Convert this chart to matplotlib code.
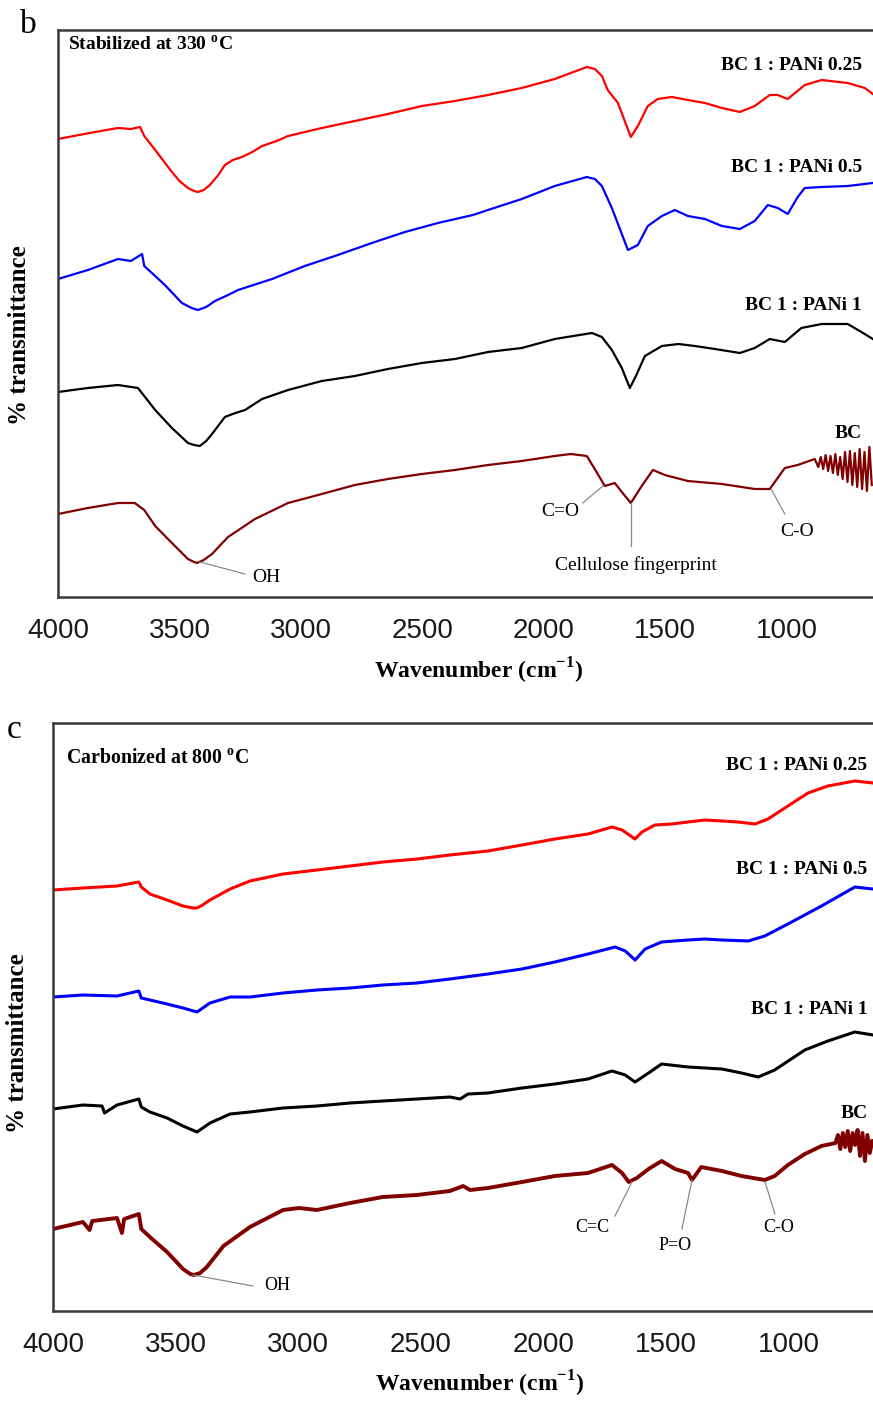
import matplotlib
matplotlib.use("Agg")
import matplotlib.pyplot as plt

# ---- panel b: stabilized at 330 C (arbitrary transmittance units) ----
B_PANI025_WN = [4000, 3870, 3753, 3700, 3662, 3645, 3600, 3531, 3500, 3465, 3440, 3424, 3400, 3375, 3340,
                3313, 3280, 3243, 3200, 3160, 3100, 3053, 2914, 2778, 2642, 2502, 2366, 2230, 2091, 1955,
                1823, 1790, 1761, 1737, 1695, 1667, 1642, 1613, 1572, 1531, 1473, 1407, 1337, 1267, 1193,
                1132, 1070, 1037, 996, 926, 856, 749, 679, 646]
B_PANI025_T = [458, 464, 469, 468, 470, 461, 447, 425, 416, 409, 406, 405, 407, 412, 422,
               432, 437, 440, 445, 451, 456, 461, 469, 476, 483, 491, 496, 502, 509, 518,
               530, 528, 521, 507, 494, 476, 460, 471, 491, 498, 500, 497, 494, 489, 485,
               491, 502, 502, 498, 512, 517, 514, 509, 503]

B_PANI05_WN = [4000, 3877, 3753, 3700, 3654, 3645, 3600, 3560, 3490, 3450, 3424, 3390, 3354, 3300, 3259,
               3119, 2984, 2848, 2708, 2572, 2436, 2292, 2230, 2091, 1955, 1823, 1790, 1761, 1720, 1679,
               1654, 1613, 1572, 1514, 1461, 1407, 1337, 1267, 1193, 1132, 1078, 1037, 996, 955, 926,
               856, 749, 646]
B_PANI05_T = [318, 327, 338, 336, 343, 331, 321, 312, 294, 289, 287, 290, 296, 302, 307,
              318, 331, 342, 354, 365, 374, 382, 387, 398, 411, 420, 418, 411, 389, 363,
              347, 352, 371, 381, 387, 381, 378, 371, 368, 376, 392, 389, 383, 400, 409,
              410, 411, 414]

B_PANI1_WN = [4000, 3877, 3753, 3671, 3645, 3600, 3531, 3465, 3440, 3416, 3390, 3366, 3313, 3270, 3230,
              3160, 3053, 2914, 2778, 2642, 2502, 2366, 2230, 2091, 1955, 1802, 1761, 1720, 1679, 1646,
              1621, 1584, 1514, 1446, 1378, 1296, 1193, 1132, 1070, 1008, 940, 856, 749, 679, 646]
B_PANI1_T = [205, 209, 212, 209, 201, 187, 169, 154, 152, 151, 156, 163, 180, 184, 187,
             198, 207, 216, 221, 228, 234, 238, 245, 249, 258, 264, 260, 247, 229, 209,
             221, 241, 251, 253, 251, 248, 244, 249, 258, 255, 269, 273, 273, 263, 258]

B_BC_WN = [4000, 3877, 3753, 3684, 3645, 3600, 3531, 3465, 3440, 3428, 3400, 3366, 3300, 3189, 3053,
           2914, 2778, 2642, 2502, 2366, 2230, 2091, 1955, 1889, 1823, 1788, 1749, 1708, 1679, 1642,
           1597, 1551, 1502, 1407, 1267, 1132, 1070, 1008, 955, 885, 870, 860, 850, 840, 830,
           820, 810, 800, 790, 780, 770, 760, 750, 740, 730, 720, 710, 700, 690, 680,
           670, 660, 650]
B_BC_T = [83, 89, 94, 94, 87, 71, 54, 38, 35, 34, 37, 43, 60, 78, 94,
          103, 112, 118, 123, 127, 132, 136, 141, 143, 141, 127, 111, 114, 105, 94,
          111, 127, 122, 116, 113, 108, 108, 129, 132, 138, 130, 140, 128, 142, 126,
          141, 124, 143, 122, 140, 118, 145, 115, 146, 112, 144, 110, 148, 108, 145,
          106, 150, 112]

# ---- panel c: carbonized at 800 C ----
C_PANI025_WN = [4000, 3878, 3739, 3650, 3640, 3605, 3535, 3470, 3430, 3413, 3390, 3360, 3278, 3197, 3062,
                2924, 2789, 2655, 2516, 2382, 2227, 2088, 1954, 1819, 1721, 1680, 1627, 1599, 1546, 1477,
                1411, 1342, 1273, 1208, 1138, 1085, 1004, 922, 841, 731, 657]
C_PANI025_T = [421, 423, 425, 429, 424, 417, 411, 405, 403, 403, 406, 411, 422, 430, 437,
               441, 445, 449, 452, 456, 460, 466, 472, 477, 484, 481, 472, 479, 486, 487,
               489, 491, 490, 489, 487, 492, 505, 518, 525, 530, 528]

C_PANI05_WN = [4000, 3878, 3739, 3650, 3640, 3605, 3535, 3470, 3413, 3360, 3278, 3197, 3062, 2924, 2789,
               2655, 2516, 2382, 2227, 2088, 1954, 1819, 1708, 1667, 1627, 1586, 1519, 1411, 1342, 1273,
               1166, 1098, 1004, 867, 731, 657]
C_PANI05_T = [314, 316, 315, 320, 313, 311, 307, 303, 299, 308, 314, 314, 318, 321, 323,
              326, 328, 332, 337, 342, 349, 357, 364, 360, 351, 362, 369, 371, 372, 371,
              370, 375, 387, 405, 424, 422]

C_PANI1_WN = [4000, 3878, 3800, 3790, 3739, 3650, 3640, 3605, 3535, 3470, 3413, 3360, 3278, 3197, 3062,
              2924, 2789, 2655, 2516, 2382, 2340, 2308, 2227, 2088, 1954, 1819, 1721, 1667, 1627, 1572,
              1519, 1411, 1273, 1193, 1125, 1058, 935, 841, 731, 657]
C_PANI1_T = [202, 206, 205, 198, 206, 212, 204, 199, 193, 185, 179, 188, 197, 199, 203,
             205, 208, 210, 212, 214, 212, 217, 218, 223, 227, 232, 240, 236, 229, 238,
             247, 244, 242, 238, 234, 241, 261, 270, 279, 276]

C_BC_WN = [4000, 3878, 3851, 3840, 3739, 3719, 3710, 3650, 3640, 3605, 3535, 3470, 3440, 3426, 3400,
           3373, 3305, 3197, 3062, 2997, 2924, 2789, 2655, 2516, 2382, 2328, 2300, 2227, 2088, 1954,
           1819, 1721, 1680, 1653, 1620, 1572, 1519, 1464, 1411, 1395, 1357, 1273, 1193, 1098, 1058,
           1004, 935, 867, 810, 800, 790, 780, 770, 760, 750, 740, 730, 720, 710, 700,
           690, 680, 670, 660]
C_BC_T = [82, 89, 81, 90, 93, 78, 92, 97, 82, 74, 59, 42, 37, 36, 38,
          44, 65, 84, 101, 103, 101, 108, 114, 116, 120, 125, 121, 123, 129, 135,
          138, 146, 138, 129, 133, 142, 150, 142, 138, 131, 144, 140, 135, 131, 135,
          146, 157, 165, 168, 176, 162, 178, 164, 180, 160, 178, 166, 181, 155, 178,
          150, 176, 158, 170]

SERIES_NAMES = ["BC 1 : PANi 0.25", "BC 1 : PANi 0.5", "BC 1 : PANi 1", "BC"]
COLORS = ["#ff0000", "#0000ff", "#000000", "#800000"]
TICKS = [4000, 3500, 3000, 2500, 2000, 1500, 1000]

plt.rcParams["mathtext.fontset"] = "custom"
plt.rcParams["mathtext.rm"] = "Liberation Serif"
plt.rcParams["mathtext.bf"] = "Liberation Serif:bold"
SERIF = "Liberation Serif"


def setup_axes(ax, xmax_right, ytop):
    ax.set_xlim(4000, xmax_right)
    ax.set_ylim(0, ytop)
    ax.set_yticks([])
    ax.set_xticks(TICKS)
    ax.set_xticklabels([str(t) for t in TICKS], fontfamily="Liberation Sans", fontsize=20, color="#1a1a1a")
    ax.tick_params(axis="x", length=0, pad=15)
    for s in ["left", "top", "bottom"]:
        ax.spines[s].set_color("#3a3a3a")
        ax.spines[s].set_linewidth(1.8)
    ax.spines["right"].set_visible(False)


def leader(ax, p0, p1):
    ax.plot([p0[0], p1[0]], [p0[1], p1[1]], color="#8a8a8a", lw=0.9)


fig = plt.figure(figsize=(8.73, 14.01), dpi=100)

# panel b
axb = fig.add_axes([58 / 873, 1 - 597 / 1401, 815 / 873, 567 / 1401])
setup_axes(axb, 645, 567)
b_data = [(B_PANI025_WN, B_PANI025_T), (B_PANI05_WN, B_PANI05_T),
          (B_PANI1_WN, B_PANI1_T), (B_BC_WN, B_BC_T)]
for (wn, t), c in zip(b_data, COLORS):
    axb.plot(wn, t, color=c, lw=1.6)
for name, ty in zip(SERIES_NAMES, [532, 429, 291, 164]):
    axb.text(690, ty, name, ha="right", va="center", fontfamily=SERIF, fontweight="bold", fontsize=14)
axb.text(0.012, 0.974, r"Stabilized at 330 $^{\mathbf{o}}$C", transform=axb.transAxes,
         ha="left", va="center", fontfamily=SERIF, fontweight="bold", fontsize=14)

leader(axb, (3416, 35), (3230, 23))
axb.text(3144, 19, "OH", ha="center", va="center", fontfamily=SERIF, fontsize=14)
leader(axb, (1757, 111), (1840, 94))
axb.text(1934, 85, "C=O", ha="center", va="center", fontfamily=SERIF, fontsize=14)
leader(axb, (1642, 94), (1642, 51))
axb.text(1621, 32, "Cellulose fingerprint", ha="center", va="center", fontfamily=SERIF, fontsize=14)
leader(axb, (1062, 107), (1008, 83))
axb.text(959, 65, "C-O", ha="center", va="center", fontfamily=SERIF, fontsize=14)

# panel c
axc = fig.add_axes([53 / 873, 1 - 1311 / 1401, 820 / 873, 588 / 1401])
setup_axes(axc, 657, 588)
c_data = [(C_PANI025_WN, C_PANI025_T), (C_PANI05_WN, C_PANI05_T),
          (C_PANI1_WN, C_PANI1_T), (C_BC_WN, C_BC_T)]
for (wn, t), c, lw in zip(c_data, COLORS, [2.2, 2.2, 2.2, 2.8]):
    axc.plot(wn, t, color=c, lw=lw)
for name, ty in zip(SERIES_NAMES, [546, 441, 302, 197]):
    axc.text(680, ty, name, ha="right", va="center", fontfamily=SERIF, fontweight="bold", fontsize=14)
axc.text(0.016, 0.94, r"Carbonized at 800 $^{\mathbf{o}}$C", transform=axc.transAxes,
         ha="left", va="center", fontfamily=SERIF, fontweight="bold", fontsize=14.3)

leader(axc, (3429, 36), (3185, 25))
axc.text(3087, 26, "OH", ha="center", va="center", fontfamily=SERIF, fontsize=13)
leader(axc, (1640, 129), (1709, 95))
axc.text(1803, 83, "C=C", ha="center", va="center", fontfamily=SERIF, fontsize=13)
leader(axc, (1395, 131), (1436, 82))
axc.text(1464, 65, "P=O", ha="center", va="center", fontfamily=SERIF, fontsize=13)
leader(axc, (1097, 129), (1057, 97))
axc.text(1040, 83, "C-O", ha="center", va="center", fontfamily=SERIF, fontsize=13)

# axis titles and panel letters
xl = r"Wavenumber (cm$^{\mathbf{-1}}$)"
fig.text(479 / 873, 1 - 671 / 1401, xl, ha="center", va="center", fontfamily=SERIF, fontweight="bold", fontsize=17)
fig.text(480 / 873, 1 - 1384 / 1401, xl, ha="center", va="center", fontfamily=SERIF, fontweight="bold", fontsize=17)
fig.text(20 / 873, 1 - 335 / 1401, "% transmittance", rotation=90, ha="center", va="center",
         fontfamily=SERIF, fontweight="bold", fontsize=18)
fig.text(18 / 873, 1 - 1043 / 1401, "% transmittance", rotation=90, ha="center", va="center",
         fontfamily=SERIF, fontweight="bold", fontsize=18)
fig.text(28 / 873, 1 - 25 / 1401, "b", ha="center", va="center", fontfamily=SERIF, fontsize=24)
fig.text(14 / 873, 1 - 730 / 1401, "c", ha="center", va="center", fontfamily=SERIF, fontsize=24)

fig.savefig("out.png", dpi=100)
